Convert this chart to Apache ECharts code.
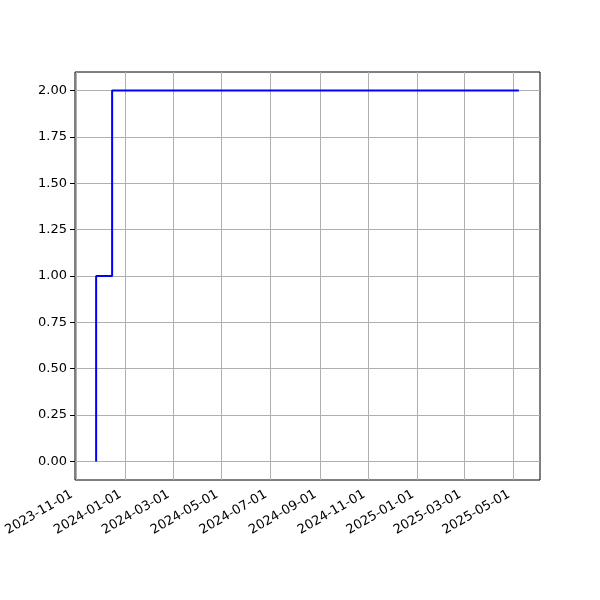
<!DOCTYPE html>
<html>
<head>
<meta charset="utf-8">
<script src="https://cdn.jsdelivr.net/npm/echarts@6/dist/echarts.min.js"></script>
<style>html,body{margin:0;padding:0;background:#fff;}#chart{width:600px;height:600px;}</style>
</head>
<body>
<div id="chart"></div>
<script>
const xTickLabels = ['2023-11-01','2024-01-01','2024-03-01','2024-05-01','2024-07-01','2024-09-01','2024-11-01','2025-01-01','2025-03-01','2025-05-01'];
const stepDates = ['2023-11-26','2023-12-16','2025-05-08'];
const stepValues = [0, 1, 2];
const yTicks = [0, 0.25, 0.5, 0.75, 1.0, 1.25, 1.5, 1.75, 2.0];

function ts(s){ const p = s.split('-').map(Number); return Date.UTC(p[0], p[1]-1, p[2]); }
function fmtDate(v){ return new Date(v).toISOString().slice(0,10); }

const xs = stepDates.map(ts);
const xRange = xs[xs.length-1] - xs[0];
const xMin = xs[0] - 0.05*xRange;
const xMax = xs[xs.length-1] + 0.05*xRange;
const yRange = Math.max(...stepValues) - Math.min(...stepValues);
const yMin = Math.min(...stepValues) - 0.05*yRange;
const yMax = Math.max(...stepValues) + 0.05*yRange;
const xTickVals = xTickLabels.map(ts);

const gridLineStyle = {color:'#b0b0b0', width:1, type:'solid'};

const chart = echarts.init(document.getElementById('chart'), null, {renderer:'canvas'});
chart.setOption({
  animation:false,
  grid:{left:75, right:60, top:72, bottom:120, show:true, borderColor:'#000', borderWidth:1, backgroundColor:'transparent'},
  xAxis:{
    type:'value', min:xMin, max:xMax,
    axisLine:{show:false},
    axisTick:{show:true, customValues:xTickVals, length:5, inside:false, lineStyle:{color:'#000', width:1}},
    axisLabel:{customValues:xTickVals, rotate:30, margin:11, padding:[0,5,0,0], formatter:fmtDate, color:'#000', fontSize:13, fontFamily:'DejaVu Sans'},
    splitLine:{show:false}
  },
  yAxis:{
    type:'value', min:yMin, max:yMax,
    axisLine:{show:false},
    axisTick:{show:true, customValues:yTicks, length:5, lineStyle:{color:'#000', width:1}},
    axisLabel:{customValues:yTicks, margin:8, formatter:v=>v.toFixed(2), color:'#000', fontSize:13, fontFamily:'DejaVu Sans'},
    splitLine:{show:false}
  },
  series:[
    {
      type:'line', step:'start', showSymbol:false, symbol:'none',
      data: xs.map((x,i)=>[x, stepValues[i]]),
      lineStyle:{color:'#0000ff', width:2}, z:5,
      markLine:{
        silent:true, symbol:'none', label:{show:false}, z:1,
        lineStyle:gridLineStyle, animation:false,
        data: xTickVals.map(v=>({xAxis:v})).concat(yTicks.map(v=>({yAxis:v})))
      }
    }
  ]
});
</script>
</body>
</html>
